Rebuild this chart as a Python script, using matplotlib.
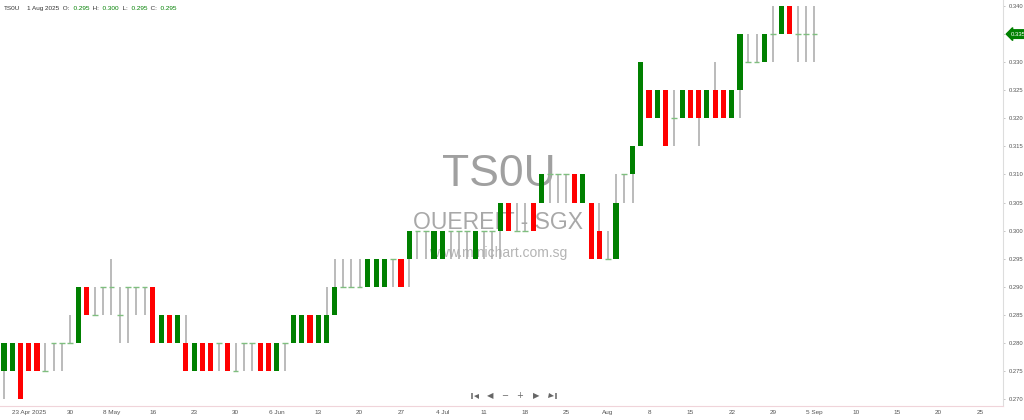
import numpy as np
import matplotlib
matplotlib.use("Agg")
import matplotlib.pyplot as plt

plt.rcParams["font.family"] = ["Liberation Sans", "DejaVu Sans"]

opens = [0.275, 0.275, 0.280, 0.280, 0.280, 0.275, 0.280, 0.280, 0.280, 0.280,
         0.290, 0.285, 0.290, 0.290, 0.285, 0.290, 0.290, 0.290, 0.290, 0.280,
         0.285, 0.280, 0.280, 0.275, 0.280, 0.280, 0.280, 0.280, 0.275, 0.280,
         0.280, 0.280, 0.280, 0.275, 0.280, 0.280, 0.280, 0.285, 0.280, 0.280,
         0.285, 0.290, 0.290, 0.290, 0.290, 0.290, 0.290, 0.295, 0.295, 0.295,
         0.300, 0.300, 0.295, 0.295, 0.300, 0.300, 0.300, 0.295, 0.300, 0.300,
         0.300, 0.305, 0.300, 0.300, 0.305, 0.305, 0.310, 0.310, 0.310, 0.310,
         0.305, 0.305, 0.300, 0.295, 0.295, 0.310, 0.310, 0.315, 0.325, 0.320,
         0.325, 0.320, 0.320, 0.325, 0.325, 0.320, 0.325, 0.325, 0.320, 0.325,
         0.330, 0.330, 0.330, 0.335, 0.335, 0.340, 0.335, 0.335, 0.335]
highs = [0.280, 0.280, 0.280, 0.280, 0.280, 0.280, 0.280, 0.280, 0.285, 0.290,
         0.290, 0.290, 0.290, 0.295, 0.290, 0.290, 0.290, 0.290, 0.290, 0.285,
         0.285, 0.285, 0.285, 0.280, 0.280, 0.280, 0.280, 0.280, 0.280, 0.280,
         0.280, 0.280, 0.280, 0.280, 0.280, 0.285, 0.285, 0.285, 0.285, 0.290,
         0.295, 0.295, 0.295, 0.295, 0.295, 0.295, 0.295, 0.295, 0.295, 0.300,
         0.300, 0.300, 0.300, 0.300, 0.300, 0.300, 0.300, 0.300, 0.300, 0.300,
         0.305, 0.305, 0.305, 0.305, 0.305, 0.310, 0.310, 0.310, 0.310, 0.310,
         0.310, 0.305, 0.305, 0.300, 0.310, 0.310, 0.315, 0.330, 0.325, 0.325,
         0.325, 0.325, 0.325, 0.325, 0.325, 0.325, 0.330, 0.325, 0.325, 0.335,
         0.335, 0.335, 0.335, 0.340, 0.340, 0.340, 0.340, 0.340, 0.340]
lows = [0.270, 0.275, 0.270, 0.275, 0.275, 0.275, 0.275, 0.275, 0.280, 0.280,
        0.285, 0.285, 0.285, 0.285, 0.280, 0.280, 0.285, 0.285, 0.280, 0.280,
        0.280, 0.280, 0.275, 0.275, 0.275, 0.275, 0.275, 0.275, 0.275, 0.275,
        0.275, 0.275, 0.275, 0.275, 0.275, 0.280, 0.280, 0.280, 0.280, 0.280,
        0.285, 0.290, 0.290, 0.290, 0.290, 0.290, 0.290, 0.290, 0.290, 0.290,
        0.295, 0.295, 0.295, 0.295, 0.295, 0.295, 0.295, 0.295, 0.295, 0.295,
        0.295, 0.300, 0.300, 0.300, 0.300, 0.305, 0.305, 0.305, 0.305, 0.305,
        0.305, 0.295, 0.295, 0.295, 0.295, 0.305, 0.305, 0.315, 0.320, 0.320,
        0.315, 0.315, 0.320, 0.320, 0.315, 0.320, 0.320, 0.320, 0.320, 0.320,
        0.330, 0.330, 0.330, 0.330, 0.335, 0.335, 0.330, 0.330, 0.330]
closes = [0.280, 0.280, 0.270, 0.275, 0.275, 0.275, 0.280, 0.280, 0.280, 0.290,
          0.285, 0.285, 0.290, 0.290, 0.285, 0.290, 0.290, 0.290, 0.280, 0.285,
          0.280, 0.285, 0.275, 0.280, 0.275, 0.275, 0.280, 0.275, 0.275, 0.280,
          0.280, 0.275, 0.275, 0.280, 0.280, 0.285, 0.285, 0.280, 0.285, 0.285,
          0.290, 0.290, 0.290, 0.290, 0.295, 0.295, 0.295, 0.295, 0.290, 0.300,
          0.300, 0.300, 0.300, 0.300, 0.300, 0.300, 0.300, 0.300, 0.300, 0.300,
          0.305, 0.300, 0.300, 0.300, 0.300, 0.310, 0.310, 0.310, 0.310, 0.305,
          0.310, 0.295, 0.295, 0.295, 0.305, 0.310, 0.315, 0.330, 0.320, 0.325,
          0.315, 0.320, 0.325, 0.320, 0.320, 0.325, 0.320, 0.320, 0.325, 0.335,
          0.330, 0.330, 0.335, 0.335, 0.340, 0.335, 0.335, 0.335, 0.335]

tick_pos = [3, 8, 13, 18, 23, 28, 33, 38, 43, 48, 53, 58, 63, 68, 73, 78, 83,
            88, 93, 98, 103, 108, 113, 118]
tick_labels = ["23 Apr 2025", "30", "8 May", "16", "23", "30", "6 Jun", "13",
               "20", "27", "4 Jul", "11", "18", "25", "Aug", "8", "15", "22",
               "29", "5 Sep", "10", "15", "20", "25"]
price_ticks = [0.270, 0.275, 0.280, 0.285, 0.290, 0.295, 0.300, 0.305, 0.310,
               0.315, 0.320, 0.325, 0.330, 0.335, 0.340]

o = np.array(opens)
h = np.array(highs)
l = np.array(lows)
c = np.array(closes)
x = np.arange(len(o))

GREEN = "#008000"
RED = "#ff0000"
WICK = "#a8a8a8"

fig = plt.figure(figsize=(10.24, 4.2), dpi=100)
ax = fig.add_axes([0.0, 0.0333, 0.9795, 0.9667])

# watermark behind candles
ax.text(0.497, 0.571, "TS0U", transform=ax.transAxes, ha="center",
        va="center", fontsize=32, color="#a0a0a0", zorder=0)
ax.text(0.497, 0.451, "OUEREIT - SGX", transform=ax.transAxes, ha="center",
        va="center", fontsize=16.5, color="#a8a8a8", zorder=0)
ax.text(0.497, 0.377, "www.minichart.com.sg", transform=ax.transAxes,
        ha="center", va="center", fontsize=10, color="#b4b4b4", zorder=0)

ax.vlines(x, l, h, color=WICK, linewidth=1.1, zorder=2)
up = c > o
down = c < o
doji = c == o
w = 0.62
ax.bar(x[up], (c - o)[up], bottom=o[up], width=w, color=GREEN, zorder=3)
ax.bar(x[down], (o - c)[down], bottom=c[down], width=w, color=RED, zorder=3)
ax.hlines(o[doji], x[doji] - 0.35, x[doji] + 0.35, color="#7fbf7f",
          linewidth=1.0, zorder=3)

ax.set_xlim(-0.48, 120.8)
ax.set_ylim(0.26875, 0.34107)

last = closes[-1]
ax.yaxis.tick_right()
ax.set_yticks(price_ticks)
# the last-price tag covers its own tick label
ax.set_yticklabels(["" if p == last else f"{p:.3f}" for p in price_ticks])
ax.set_xticks(tick_pos)
ax.set_xticklabels(tick_labels)
ax.tick_params(axis="y", labelsize=4.2, colors="#bbbbbb", length=1.5,
               pad=2.5, width=0.6)
ax.tick_params(axis="x", labelsize=4.6, colors="#444444", length=0, pad=3)
for lab in ax.get_yticklabels() + ax.get_xticklabels():
    lab.set_color("#555555")

for side in ["top", "left"]:
    ax.spines[side].set_visible(False)
ax.spines["right"].set_color("#dddddd")
ax.spines["bottom"].set_color("#f0d4da")

# last price tag
ax.annotate(f"{last:.3f}", xy=(1.0, last), xycoords=("axes fraction", "data"),
            xytext=(1.008, last), textcoords=("axes fraction", "data"),
            ha="left", va="center", fontsize=4.3, color="white",
            bbox=dict(boxstyle="larrow,pad=0.3", fc=GREEN, ec=GREEN),
            annotation_clip=False, zorder=5)

# header
hx = 0.004
hy = 0.985
parts = [("TS0U", "#333333"), ("    1 Aug 2025  O:", "#333333"),
         ("  0.295", GREEN), ("  H:", "#333333"), ("  0.300", GREEN),
         ("  L:", "#333333"), ("  0.295", GREEN), ("  C:", "#333333"),
         ("  0.295", GREEN)]
fig.canvas.draw()
renderer = fig.canvas.get_renderer()
for txt, col in parts:
    t = fig.text(hx, hy, txt, ha="left", va="top", fontsize=4.6, color=col)
    bb = t.get_window_extent(renderer=renderer)
    hx += bb.width / fig.bbox.width

# navigation buttons (first/last glyphs drawn as bar + triangle)
NAV = "#666666"
ny = 0.025
for px, s in [(490, "◀"), (505, "−"), (520, "+"), (536, "▶")]:
    ax.text(px / 1003, ny, s, transform=ax.transAxes, ha="center",
            va="center", fontsize=6, color=NAV, family="DejaVu Sans")
for bar_px, tri_px, mk in [(471.5, 476, "<"), (555.5, 551, ">")]:
    ax.plot([bar_px / 1003], [ny], marker="|", markersize=4.5,
            markeredgewidth=1.1, color=NAV, transform=ax.transAxes,
            clip_on=False)
    ax.plot([tri_px / 1003], [ny], marker=mk, markersize=3.6, color=NAV,
            markeredgewidth=0, transform=ax.transAxes, clip_on=False)

fig.savefig("out.png", dpi=100)
